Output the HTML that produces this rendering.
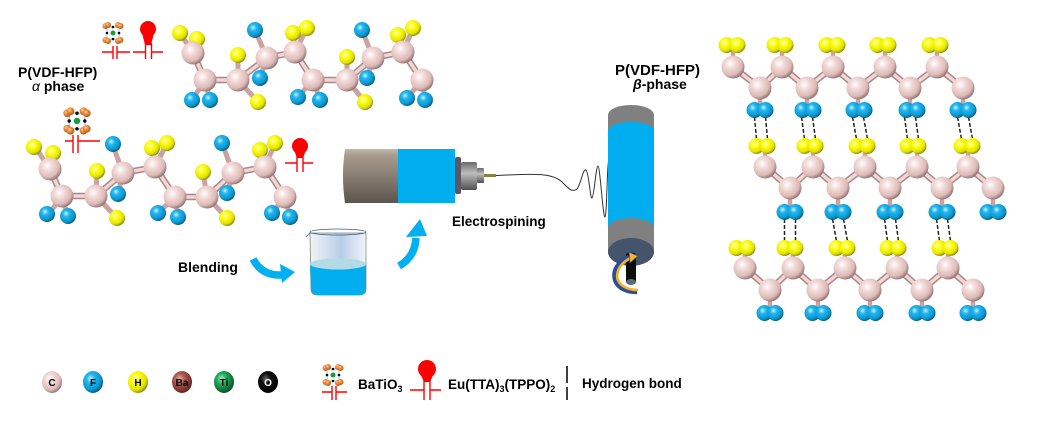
<!DOCTYPE html>
<html><head><meta charset="utf-8"><style>
html,body{margin:0;padding:0;background:#fff;}
svg{display:block;}
text{font-family:"Liberation Sans",Arial,sans-serif;font-weight:bold;fill:#000;}
</style></head><body>
<svg width="1049" height="433" viewBox="0 0 1049 433" xmlns="http://www.w3.org/2000/svg">
<defs>
<radialGradient id="gC" cx="0.38" cy="0.35" r="0.68"><stop offset="0" stop-color="#ffffff"/><stop offset="0.3" stop-color="#f3dcda"/><stop offset="0.75" stop-color="#dcb9b6"/><stop offset="1" stop-color="#8f706e"/></radialGradient>
<radialGradient id="gF" cx="0.38" cy="0.35" r="0.68"><stop offset="0" stop-color="#c8f2ff"/><stop offset="0.3" stop-color="#22b6ee"/><stop offset="0.75" stop-color="#0b95cf"/><stop offset="1" stop-color="#055876"/></radialGradient>
<radialGradient id="gH" cx="0.38" cy="0.35" r="0.68"><stop offset="0" stop-color="#ffffd8"/><stop offset="0.3" stop-color="#ffff1a"/><stop offset="0.75" stop-color="#e2e200"/><stop offset="1" stop-color="#85850a"/></radialGradient>
<radialGradient id="gBa" cx="0.38" cy="0.35" r="0.68"><stop offset="0" stop-color="#e8b0a8"/><stop offset="0.35" stop-color="#b25a50"/><stop offset="1" stop-color="#5e2520"/></radialGradient>
<radialGradient id="gTi" cx="0.38" cy="0.35" r="0.68"><stop offset="0" stop-color="#a8f0c0"/><stop offset="0.35" stop-color="#1fae5c"/><stop offset="1" stop-color="#0a4f26"/></radialGradient>
<radialGradient id="gO" cx="0.38" cy="0.35" r="0.68"><stop offset="0" stop-color="#666"/><stop offset="0.35" stop-color="#111"/><stop offset="1" stop-color="#000"/></radialGradient>
<radialGradient id="gOr" cx="0.38" cy="0.35" r="0.7"><stop offset="0" stop-color="#ffd0a0"/><stop offset="0.4" stop-color="#ec8c3c"/><stop offset="1" stop-color="#a85818"/></radialGradient>
<linearGradient id="gBarrel" x1="0" y1="0" x2="0" y2="1"><stop offset="0" stop-color="#c4b8a8"/><stop offset="0.12" stop-color="#a89c8e"/><stop offset="1" stop-color="#5c554e"/></linearGradient>
<linearGradient id="gNoz" x1="0" y1="0" x2="0" y2="1"><stop offset="0" stop-color="#6a6a6a"/><stop offset="0.4" stop-color="#bdbdbd"/><stop offset="1" stop-color="#505050"/></linearGradient>
<linearGradient id="gGlass" x1="0" y1="0" x2="1" y2="0"><stop offset="0" stop-color="#eef3f7"/><stop offset="0.3" stop-color="#d4e0ee"/><stop offset="0.55" stop-color="#b8cde8"/><stop offset="1" stop-color="#f0f4f8"/></linearGradient>
</defs>

<!-- ===== Alpha chain 1 ===== -->
<g stroke-linecap="round" fill="none">
<path d="M193,53 L180,33 M193,53 L197,39 M205,80 L192,100 M205,80 L210,100 M238,80 L238,55 M238,80 L258,102 M267,58 L255,30 M267,58 L260,78 M295,52 L293,33 M295,52 L307,28 M313,80 L298,97 M313,80 L320,100 M347,80 L347,57 M347,80 L365,102 M373,58 L362,30 M373,58 L367,78 M403,52 L398,35 M403,52 L413,28 M422,80 L407,98 M422,80 L425,100" stroke="#c9a3a1" stroke-width="5"/>
<polyline points="193,53 205,80 238,80 267,58 295,52 313,80 347,80 373,58 403,52 422,80" stroke="#a88888" stroke-width="6.5"/>
<polyline points="193,53 205,80 238,80 267,58 295,52 313,80 347,80 373,58 403,52 422,80" stroke="#f2d6d4" stroke-width="3.5"/>
</g>
<g fill="url(#gH)">
<circle cx="180" cy="33" r="8"/><circle cx="197" cy="39" r="8"/><circle cx="238" cy="55" r="8"/><circle cx="258" cy="102" r="8"/><circle cx="293" cy="33" r="8"/><circle cx="307" cy="28" r="8"/><circle cx="347" cy="57" r="8"/><circle cx="365" cy="102" r="8"/><circle cx="398" cy="35" r="8"/><circle cx="413" cy="28" r="8"/>
</g>
<g fill="url(#gF)">
<circle cx="192" cy="100" r="8"/><circle cx="210" cy="100" r="8"/><circle cx="255" cy="30" r="8"/><circle cx="260" cy="78" r="8"/><circle cx="298" cy="97" r="8"/><circle cx="320" cy="100" r="8"/><circle cx="362" cy="30" r="8"/><circle cx="367" cy="78" r="8"/><circle cx="407" cy="98" r="8"/><circle cx="425" cy="100" r="8"/>
</g>
<g fill="url(#gC)">
<circle cx="193" cy="53" r="11.5"/><circle cx="205" cy="80" r="11.5"/><circle cx="238" cy="80" r="11.5"/><circle cx="267" cy="58" r="11.5"/><circle cx="295" cy="52" r="11.5"/><circle cx="313" cy="80" r="11.5"/><circle cx="347" cy="80" r="11.5"/><circle cx="373" cy="58" r="11.5"/><circle cx="403" cy="52" r="11.5"/><circle cx="422" cy="80" r="11.5"/>
</g>

<!-- ===== Alpha chain 2 ===== -->
<g stroke-linecap="round" fill="none">
<path d="M50,169 L35,147 M50,169 L53,153 M62,196 L48,215 M62,196 L68,217 M96,196 L97,172 M96,196 L117,218 M123,173 L112,143 M123,173 L118,194 M155,167 L152,148 M155,167 L167,143 M175,197 L158,213 M175,197 L178,217 M207,197 L203,172 M207,197 L227,218 M233,173 L222,143 M233,173 L227,193 M265,167 L260,150 M265,167 L275,143 M285,197 L272,213 M285,197 L290,217" stroke="#c9a3a1" stroke-width="5"/>
<polyline points="50,169 62,196 96,196 123,173 155,167 175,197 207,197 233,173 265,167 285,197" stroke="#a88888" stroke-width="6.5"/>
<polyline points="50,169 62,196 96,196 123,173 155,167 175,197 207,197 233,173 265,167 285,197" stroke="#f2d6d4" stroke-width="3.5"/>
</g>
<g fill="url(#gH)">
<circle cx="34" cy="147" r="8"/><circle cx="53" cy="153" r="8"/><circle cx="97" cy="171" r="8"/><circle cx="117" cy="218" r="8"/><circle cx="152" cy="148" r="8"/><circle cx="167" cy="143" r="8"/><circle cx="203" cy="172" r="8"/><circle cx="227" cy="218" r="8"/><circle cx="260" cy="150" r="8"/><circle cx="275" cy="143" r="8"/>
</g>
<g fill="url(#gF)">
<circle cx="47" cy="214" r="8"/><circle cx="68" cy="216" r="8"/><circle cx="113" cy="144" r="8"/><circle cx="118" cy="194" r="8"/><circle cx="158" cy="213" r="8"/><circle cx="178" cy="217" r="8"/><circle cx="222" cy="143" r="8"/><circle cx="227" cy="193" r="8"/><circle cx="272" cy="213" r="8"/><circle cx="290" cy="217" r="8"/>
</g>
<g fill="url(#gC)">
<circle cx="50" cy="169" r="11.5"/><circle cx="62" cy="196" r="11.5"/><circle cx="96" cy="196" r="11.5"/><circle cx="123" cy="173" r="11.5"/><circle cx="155" cy="167" r="11.5"/><circle cx="175" cy="197" r="11.5"/><circle cx="207" cy="197" r="11.5"/><circle cx="233" cy="173" r="11.5"/><circle cx="265" cy="167" r="11.5"/><circle cx="285" cy="197" r="11.5"/>
</g>

<!-- ===== BaTiO3 / Eu icons ===== -->
<g id="bto1" transform="translate(113,33)">
<rect x="-6" y="-6" width="12" height="12" fill="none" stroke="#8ab6e6" stroke-width="0.8"/>
<circle cx="-6" cy="0" r="1.3" fill="#000"/><circle cx="6" cy="0" r="1.3" fill="#000"/><circle cx="0" cy="-6" r="1.3" fill="#000"/><circle cx="0" cy="6" r="1.3" fill="#000"/>
<circle cx="0" cy="0" r="2.5" fill="#1a9a40"/>
<g fill="url(#gOr)"><circle cx="-7.5" cy="-7" r="3"/><circle cx="-5" cy="-8" r="3"/><circle cx="5" cy="-8" r="3"/><circle cx="7.5" cy="-7" r="3"/><circle cx="-7.5" cy="7" r="3"/><circle cx="-5" cy="8" r="3"/><circle cx="5" cy="8" r="3"/><circle cx="7.5" cy="7" r="3"/></g>
</g>
<g transform="translate(77,121) scale(1.3)">
<rect x="-6" y="-6" width="12" height="12" fill="none" stroke="#8ab6e6" stroke-width="0.8"/>
<circle cx="-6" cy="0" r="1.3" fill="#000"/><circle cx="6" cy="0" r="1.3" fill="#000"/><circle cx="0" cy="-6" r="1.3" fill="#000"/><circle cx="0" cy="6" r="1.3" fill="#000"/>
<circle cx="0" cy="0" r="2.5" fill="#1a9a40"/>
<g fill="url(#gOr)"><circle cx="-7.5" cy="-6" r="3"/><circle cx="-5" cy="-7.5" r="3"/><circle cx="5" cy="-7.5" r="3"/><circle cx="7.5" cy="-6" r="3"/><circle cx="-7.5" cy="6" r="3"/><circle cx="-5" cy="7.5" r="3"/><circle cx="5" cy="7.5" r="3"/><circle cx="7.5" cy="6" r="3"/></g>
</g>
<g transform="translate(333,375)">
<rect x="-6" y="-6" width="12" height="12" fill="none" stroke="#8ab6e6" stroke-width="0.8"/>
<circle cx="-6" cy="0" r="1.3" fill="#000"/><circle cx="6" cy="0" r="1.3" fill="#000"/><circle cx="0" cy="-6" r="1.3" fill="#000"/><circle cx="0" cy="6" r="1.3" fill="#000"/>
<circle cx="0" cy="0" r="2.5" fill="#1a9a40"/>
<g fill="url(#gOr)"><circle cx="-7.5" cy="-7" r="3"/><circle cx="-5" cy="-8" r="3"/><circle cx="5" cy="-8" r="3"/><circle cx="7.5" cy="-7" r="3"/><circle cx="-7.5" cy="7" r="3"/><circle cx="-5" cy="8" r="3"/><circle cx="5" cy="8" r="3"/><circle cx="7.5" cy="7" r="3"/></g>
</g>

<g stroke="#ff0000" stroke-width="1.4" fill="none">
<path d="M102,52 H113 M117,52 H130 M113,46 V59 M117,46 V59"/>
<path d="M133,52 H145.5 M151.5,52 H163 M145.5,43 V59 M151.5,43 V59"/>
<path d="M65,141 H73 M78,141 H100 M73,135 V153 M78,135 V153"/>
<path d="M285,163 H297 M303,163 H313 M297,155 V172 M303,155 V172"/>
<path d="M322,392 H332 M336,392 H347 M332,386 V400 M336,386 V400"/>
<path d="M410,390 H424 M430,390 H441 M424,380 V400 M430,380 V400"/>
</g>
<g fill="#ff0000">
<circle cx="148" cy="29" r="8"/><polygon points="142,33 154,33 151,45 145,45"/>
<circle cx="300" cy="146" r="8"/><polygon points="294,150 306,150 303,158 297,158"/>
<circle cx="427" cy="369" r="9"/><polygon points="420,373 434,373 430,382 424,382"/>
</g>

<!-- ===== labels ===== -->
<text x="18" y="77" font-size="14">P(VDF-HFP)</text>
<text x="32" y="91" font-size="14"><tspan font-style="italic" font-weight="normal">α</tspan> phase</text>
<text x="615" y="75" font-size="15">P(VDF-HFP)</text>
<text x="633" y="89" font-size="14"><tspan font-style="italic">β</tspan>-phase</text>
<text x="452" y="226" font-size="13.5">Electrospining</text>
<text x="178" y="272" font-size="14">Blending</text>

<!-- ===== syringe ===== -->
<path d="M345,149 H399 V203 H345 Q341,176 345,149 Z" fill="url(#gBarrel)"/>
<rect x="398" y="149" width="57" height="54" fill="#00aeef"/>
<rect x="455" y="157" width="6" height="37" rx="2" fill="#5b5668"/>
<rect x="461" y="162" width="16" height="28" rx="2" fill="url(#gNoz)"/>
<rect x="477" y="168" width="7" height="15" rx="1" fill="url(#gNoz)"/>
<rect x="484" y="174" width="12" height="3" fill="#8a8040"/>
<path d="M496,175.5 C530,174 552,172 562,182 C568,188 572,193 577,189 C581,184 583,168 586,170 C589,172 590,199 592,198 C594,197 596,166 598,166 C600,166 603,218 605,217 C607,216 607,160 609,160" fill="none" stroke="#333" stroke-width="1"/>

<!-- ===== collector ===== -->
<rect x="608" y="115" width="46" height="137" fill="#808080"/>
<ellipse cx="631" cy="115" rx="23" ry="10" fill="#808080"/>
<path d="M608,131 A23,9 0 0 1 654,131 L654,228 A23,10 0 0 0 608,228 Z" fill="#00aeef"/>
<ellipse cx="631" cy="252" rx="23" ry="14" fill="#44546a"/>
<rect x="626" y="255" width="10" height="27" fill="#0d0d0d"/>
<ellipse cx="631" cy="255" rx="5" ry="2.5" fill="#0d0d0d"/>
<ellipse cx="631" cy="282" rx="5" ry="3" fill="#5d6c7c"/>
<path d="M637,292 C622,292 612,284 615,271 C617,264 624,259 629,257" fill="none" stroke="#2a4c9c" stroke-width="4.5"/>
<path d="M638,290 C625,290 614,283 618,271 C620,265 626,260 631,258" fill="none" stroke="#f2b42a" stroke-width="2.6"/>
<polygon points="638,256 629,252 630,263" fill="#f2b42a" stroke="#2a4c9c" stroke-width="0.7"/>

<!-- ===== beaker ===== -->
<path d="M310,233 L311,289 Q311,295 318,295 L359,295 Q366,295 366,289 L366,233 Z" fill="url(#gGlass)" stroke="#8a8a7a" stroke-width="0.8"/>
<path d="M310,264 L311,289 Q311,295 318,295 L359,295 Q366,295 366,289 L366,264 Z" fill="#00aeef"/>
<ellipse cx="338" cy="264" rx="28" ry="5.5" fill="#b3dbe6"/>
<ellipse cx="338" cy="232" rx="28" ry="3" fill="none" stroke="#3a5a8a" stroke-width="0.8"/>
<path d="M310,233 Q307,236 306,237" stroke="#3a5a8a" stroke-width="0.8" fill="none"/>

<!-- ===== blue arrows ===== -->
<path d="M253,259 Q262,276 282,275" fill="none" stroke="#00b0f0" stroke-width="7.5"/>
<polygon points="295,272 280,264 282,283" fill="#00b0f0"/>
<path d="M399,266 Q415,257 416,238" fill="none" stroke="#00b0f0" stroke-width="7.5"/>
<polygon points="420,219 406,237 427,236" fill="#00b0f0"/>

<!-- ===== beta phase ===== -->
<g stroke-linecap="round" fill="none" stroke="#c9a3a1" stroke-width="4.5">
<path d="M733,67 V45 M782,67 V45 M833,67 V45 M885,67 V45 M937,67 V45 M760,88 V110 M807,88 V110 M858,88 V110 M910,88 V110 M963,88 V110"/>
<path d="M765,167 V146 M813,167 V146 M865,167 V146 M917,167 V146 M968,167 V146 M790,188 V212 M838,188 V212 M890,188 V212 M942,188 V212 M993,188 V212"/>
<path d="M745,268 V248 M793,268 V248 M845,268 V248 M897,268 V248 M948,268 V248 M770,290 V313 M818,290 V313 M870,290 V313 M922,290 V313 M973,290 V313"/>
</g>
<g fill="none" stroke-linecap="round">
<g stroke="#a88888" stroke-width="6.5">
<polyline points="733,67 760,88 782,67 807,88 833,67 858,88 885,67 910,88 937,67 963,88"/>
<polyline points="765,167 790,188 813,167 838,188 865,167 890,188 917,167 942,188 968,167 993,188"/>
<polyline points="745,268 770,290 793,268 818,290 845,268 870,290 897,268 922,290 948,268 973,290"/>
</g>
<g stroke="#f2d6d4" stroke-width="3.5">
<polyline points="733,67 760,88 782,67 807,88 833,67 858,88 885,67 910,88 937,67 963,88"/>
<polyline points="765,167 790,188 813,167 838,188 865,167 890,188 917,167 942,188 968,167 993,188"/>
<polyline points="745,268 770,290 793,268 818,290 845,268 870,290 897,268 922,290 948,268 973,290"/>
</g>
</g>
<g stroke="#222" stroke-width="1.5" stroke-dasharray="4,2" fill="none">
<path d="M754.5,117 L756.5,139 M765.5,117 L767.5,139 M801.5,117 L804.5,139 M812.5,117 L815.5,139 M852.5,117 L856.5,139 M863.5,117 L867.5,139 M904.5,117 L907.5,139 M915.5,117 L918.5,139 M957.5,117 L961.5,139 M968.5,117 L972.5,139"/>
<path d="M784.5,219 L784.5,241 M795.5,219 L795.5,241 M832.5,219 L836.5,241 M843.5,219 L847.5,241 M884.5,219 L887.5,241 M895.5,219 L898.5,241 M936.5,219 L939.5,241 M947.5,219 L950.5,241"/>
</g>
<g fill="url(#gH)">
<circle cx="726.5" cy="45" r="8"/><circle cx="737.5" cy="45" r="8"/><circle cx="774.5" cy="45" r="8"/><circle cx="785.5" cy="45" r="8"/><circle cx="826.5" cy="45" r="8"/><circle cx="837.5" cy="45" r="8"/><circle cx="877.5" cy="45" r="8"/><circle cx="888.5" cy="45" r="8"/><circle cx="929.5" cy="45" r="8"/><circle cx="940.5" cy="45" r="8"/>
<circle cx="756.5" cy="146" r="8"/><circle cx="767.5" cy="146" r="8"/><circle cx="804.5" cy="146" r="8"/><circle cx="815.5" cy="146" r="8"/><circle cx="856.5" cy="146" r="8"/><circle cx="867.5" cy="146" r="8"/><circle cx="907.5" cy="146" r="8"/><circle cx="918.5" cy="146" r="8"/><circle cx="961.5" cy="146" r="8"/><circle cx="972.5" cy="146" r="8"/>
<circle cx="736.5" cy="248" r="8"/><circle cx="747.5" cy="248" r="8"/><circle cx="784.5" cy="248" r="8"/><circle cx="795.5" cy="248" r="8"/><circle cx="836.5" cy="248" r="8"/><circle cx="847.5" cy="248" r="8"/><circle cx="887.5" cy="248" r="8"/><circle cx="898.5" cy="248" r="8"/><circle cx="939.5" cy="248" r="8"/><circle cx="950.5" cy="248" r="8"/>
</g>
<g fill="url(#gF)">
<circle cx="754.5" cy="110" r="8"/><circle cx="765.5" cy="110" r="8"/><circle cx="802.5" cy="110" r="8"/><circle cx="813.5" cy="110" r="8"/><circle cx="853.5" cy="110" r="8"/><circle cx="864.5" cy="110" r="8"/><circle cx="906.5" cy="110" r="8"/><circle cx="917.5" cy="110" r="8"/><circle cx="957.5" cy="110" r="8"/><circle cx="968.5" cy="110" r="8"/>
<circle cx="784.5" cy="212" r="8"/><circle cx="795.5" cy="212" r="8"/><circle cx="832.5" cy="212" r="8"/><circle cx="843.5" cy="212" r="8"/><circle cx="884.5" cy="212" r="8"/><circle cx="895.5" cy="212" r="8"/><circle cx="936.5" cy="212" r="8"/><circle cx="947.5" cy="212" r="8"/><circle cx="987.5" cy="212" r="8"/><circle cx="998.5" cy="212" r="8"/>
<circle cx="764.5" cy="313" r="8"/><circle cx="775.5" cy="313" r="8"/><circle cx="812.5" cy="313" r="8"/><circle cx="823.5" cy="313" r="8"/><circle cx="864.5" cy="313" r="8"/><circle cx="875.5" cy="313" r="8"/><circle cx="916.5" cy="313" r="8"/><circle cx="927.5" cy="313" r="8"/><circle cx="967.5" cy="313" r="8"/><circle cx="978.5" cy="313" r="8"/>
</g>
<g fill="url(#gC)">
<circle cx="733" cy="67" r="11.5"/><circle cx="782" cy="67" r="11.5"/><circle cx="833" cy="67" r="11.5"/><circle cx="885" cy="67" r="11.5"/><circle cx="937" cy="67" r="11.5"/>
<circle cx="760" cy="88" r="11.5"/><circle cx="807" cy="88" r="11.5"/><circle cx="858" cy="88" r="11.5"/><circle cx="910" cy="88" r="11.5"/><circle cx="963" cy="88" r="11.5"/>
<circle cx="765" cy="167" r="11.5"/><circle cx="813" cy="167" r="11.5"/><circle cx="865" cy="167" r="11.5"/><circle cx="917" cy="167" r="11.5"/><circle cx="968" cy="167" r="11.5"/>
<circle cx="790" cy="188" r="11.5"/><circle cx="838" cy="188" r="11.5"/><circle cx="890" cy="188" r="11.5"/><circle cx="942" cy="188" r="11.5"/><circle cx="993" cy="188" r="11.5"/>
<circle cx="745" cy="268" r="11.5"/><circle cx="793" cy="268" r="11.5"/><circle cx="845" cy="268" r="11.5"/><circle cx="897" cy="268" r="11.5"/><circle cx="948" cy="268" r="11.5"/>
<circle cx="770" cy="290" r="11.5"/><circle cx="818" cy="290" r="11.5"/><circle cx="870" cy="290" r="11.5"/><circle cx="922" cy="290" r="11.5"/><circle cx="973" cy="290" r="11.5"/>
</g>

<!-- ===== legend ===== -->
<ellipse cx="52" cy="382" rx="10" ry="11" fill="url(#gC)"/>
<ellipse cx="93" cy="382" rx="10" ry="11" fill="url(#gF)"/>
<ellipse cx="138" cy="382" rx="10" ry="11" fill="url(#gH)"/>
<ellipse cx="182" cy="382" rx="10" ry="11" fill="url(#gBa)"/>
<ellipse cx="224" cy="382" rx="10" ry="11" fill="url(#gTi)"/>
<ellipse cx="268" cy="382" rx="10" ry="11" fill="url(#gO)"/>
<g font-size="10" text-anchor="middle">
<text x="52" y="386" font-weight="normal">C</text>
<text x="93" y="386">F</text>
<text x="138" y="386">H</text>
<text x="182" y="386" font-weight="normal">Ba</text>
<text x="224" y="386" font-weight="normal">Ti</text>
<text x="268" y="386" style="fill:#fff">O</text>
</g>
<text x="358" y="389" font-size="13.5">BaTiO<tspan font-size="9" dy="3">3</tspan></text>
<text x="448" y="389" font-size="13.5">Eu(TTA)<tspan font-size="9" dy="3">3</tspan><tspan dy="-3">(TPPO)</tspan><tspan font-size="9" dy="3">2</tspan></text>
<path d="M567,366 V383 M567,387 V400" stroke="#000" stroke-width="1.5"/>
<text x="582" y="388" font-size="13.5">Hydrogen bond</text>
</svg>
</body></html>
